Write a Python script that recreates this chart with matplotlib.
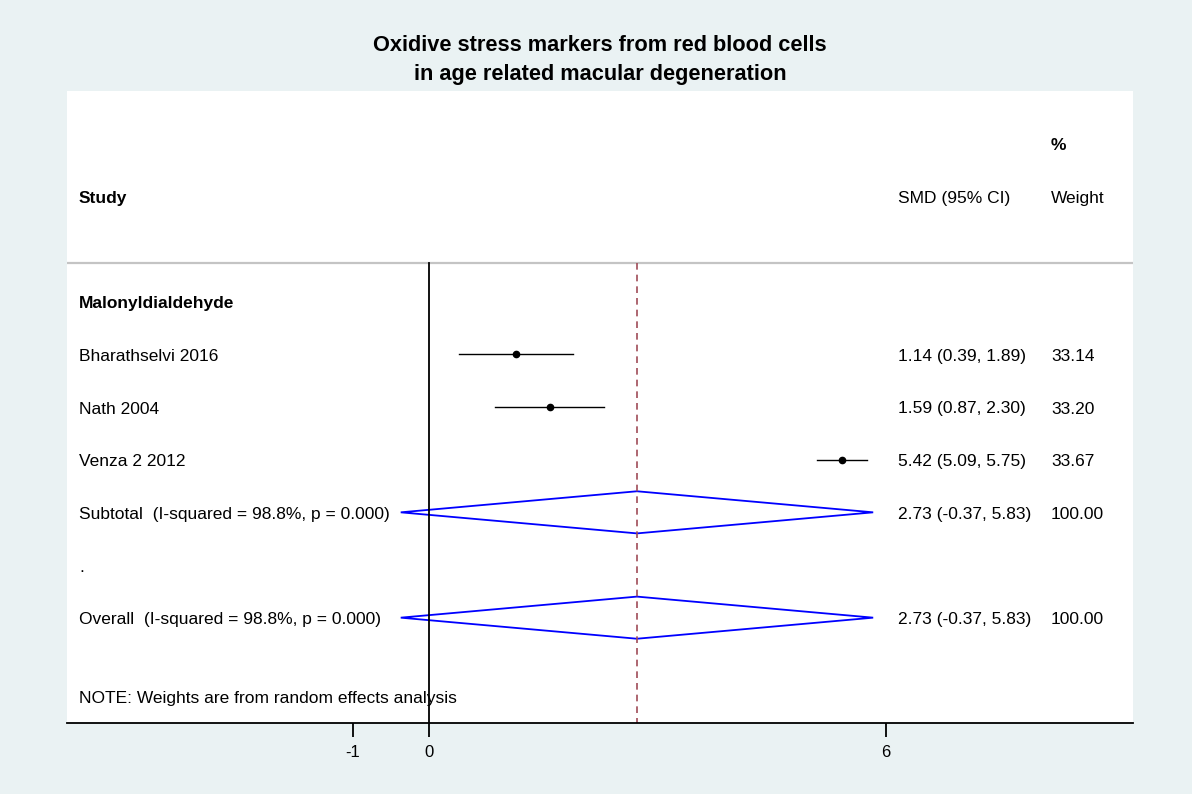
import matplotlib.pyplot as plt
from matplotlib.patches import Polygon
from matplotlib.transforms import blended_transform_factory, offset_copy

plt.rcParams['font.family'] = ['Liberation Sans', 'DejaVu Sans']

# study-level results
studies = ["Bharathselvi 2016", "Nath 2004", "Venza 2 2012"]
smd = [1.14, 1.59, 5.42]
ci_low = [0.39, 0.87, 5.09]
ci_high = [1.89, 2.30, 5.75]
weights = [33.14, 33.20, 33.67]

# pooled random effects estimate
pooled = 2.73
pooled_low = -0.37
pooled_high = 5.83
i_squared = 98.8
p_value = 0.000

group = "Malonyldialdehyde"
xticks = [-1, 0, 6]

bg = "#eaf2f3"
fs = 12.5

fig = plt.figure(figsize=(11.92, 7.94), dpi=100, facecolor=bg)
ax = fig.add_axes([67 / 1192, 1 - 723 / 794, (1133 - 67) / 1192, (723 - 91) / 794])
ax.set_xlim(-4.75, 9.24)
ax.set_ylim(8, -4)
for side in ["left", "right", "top"]:
    ax.spines[side].set_visible(False)
ax.spines["bottom"].set_linewidth(1.3)
ax.set_yticks([])
ax.set_xticks(xticks)
ax.set_xticklabels([str(t) for t in xticks], fontsize=12)
ax.tick_params(axis="x", length=10, width=1.3, pad=5.5)

# x in axes fraction, y in row units; text placed on its baseline
tr = offset_copy(blended_transform_factory(ax.transAxes, ax.transData),
                 fig=fig, y=-6.5, units="dots")
left_x = 12 / 1066
smd_x = (898 - 67) / 1066
wt_x = (1051 - 67) / 1066


def label(x, y, s, bold=False):
    ax.text(x, y, s, transform=tr, fontsize=fs, va="baseline",
            fontweight="bold" if bold else "normal")


# header
label(left_x, -2, "Study", bold=True)
label(smd_x, -2, "SMD (95% CI)")
label(wt_x, -3, "%", bold=True)
label(wt_x, -2, "Weight")
ax.axhline(-0.74, color="#c4c4c4", lw=1.6)

# reference lines
ax.plot([0, 0], [-0.74, 8], color="black", lw=1.3)
ax.plot([pooled, pooled], [-0.74, 8], color="#a04c58", lw=1.2, ls=(0, (4, 3)))

label(left_x, 0, group, bold=True)

for i, name in enumerate(studies):
    y = i + 1
    ax.plot([ci_low[i], ci_high[i]], [y, y], color="black", lw=1.0)
    ax.plot(smd[i], y, "o", color="black", ms=4.5)
    label(left_x, y, name)
    label(smd_x, y, f"{smd[i]:.2f} ({ci_low[i]:.2f}, {ci_high[i]:.2f})")
    label(wt_x, y, f"{weights[i]:.2f}")

het = f"(I-squared = {i_squared:.1f}%, p = {p_value:.3f})"
for y, name in [(4, "Subtotal  " + het), (6, "Overall  " + het)]:
    diamond = Polygon([[pooled_low, y], [pooled, y - 0.4], [pooled_high, y], [pooled, y + 0.4]],
                      closed=True, fill=False, edgecolor="#0000ff", lw=1.3)
    ax.add_patch(diamond)
    label(left_x, y, name)
    label(smd_x, y, f"{pooled:.2f} ({pooled_low:.2f}, {pooled_high:.2f})")
    label(wt_x, y, "100.00")

label(left_x, 5, ".")
label(left_x, 7.5, "NOTE: Weights are from random effects analysis")

fig.text(600 / 1192, 1 - 51 / 794, "Oxidive stress markers from red blood cells",
         ha="center", va="baseline", fontsize=15.7, fontweight="bold")
fig.text(600 / 1192, 1 - 80 / 794, "in age related macular degeneration",
         ha="center", va="baseline", fontsize=15.7, fontweight="bold")

fig.savefig("out.png", dpi=100, facecolor=bg)
